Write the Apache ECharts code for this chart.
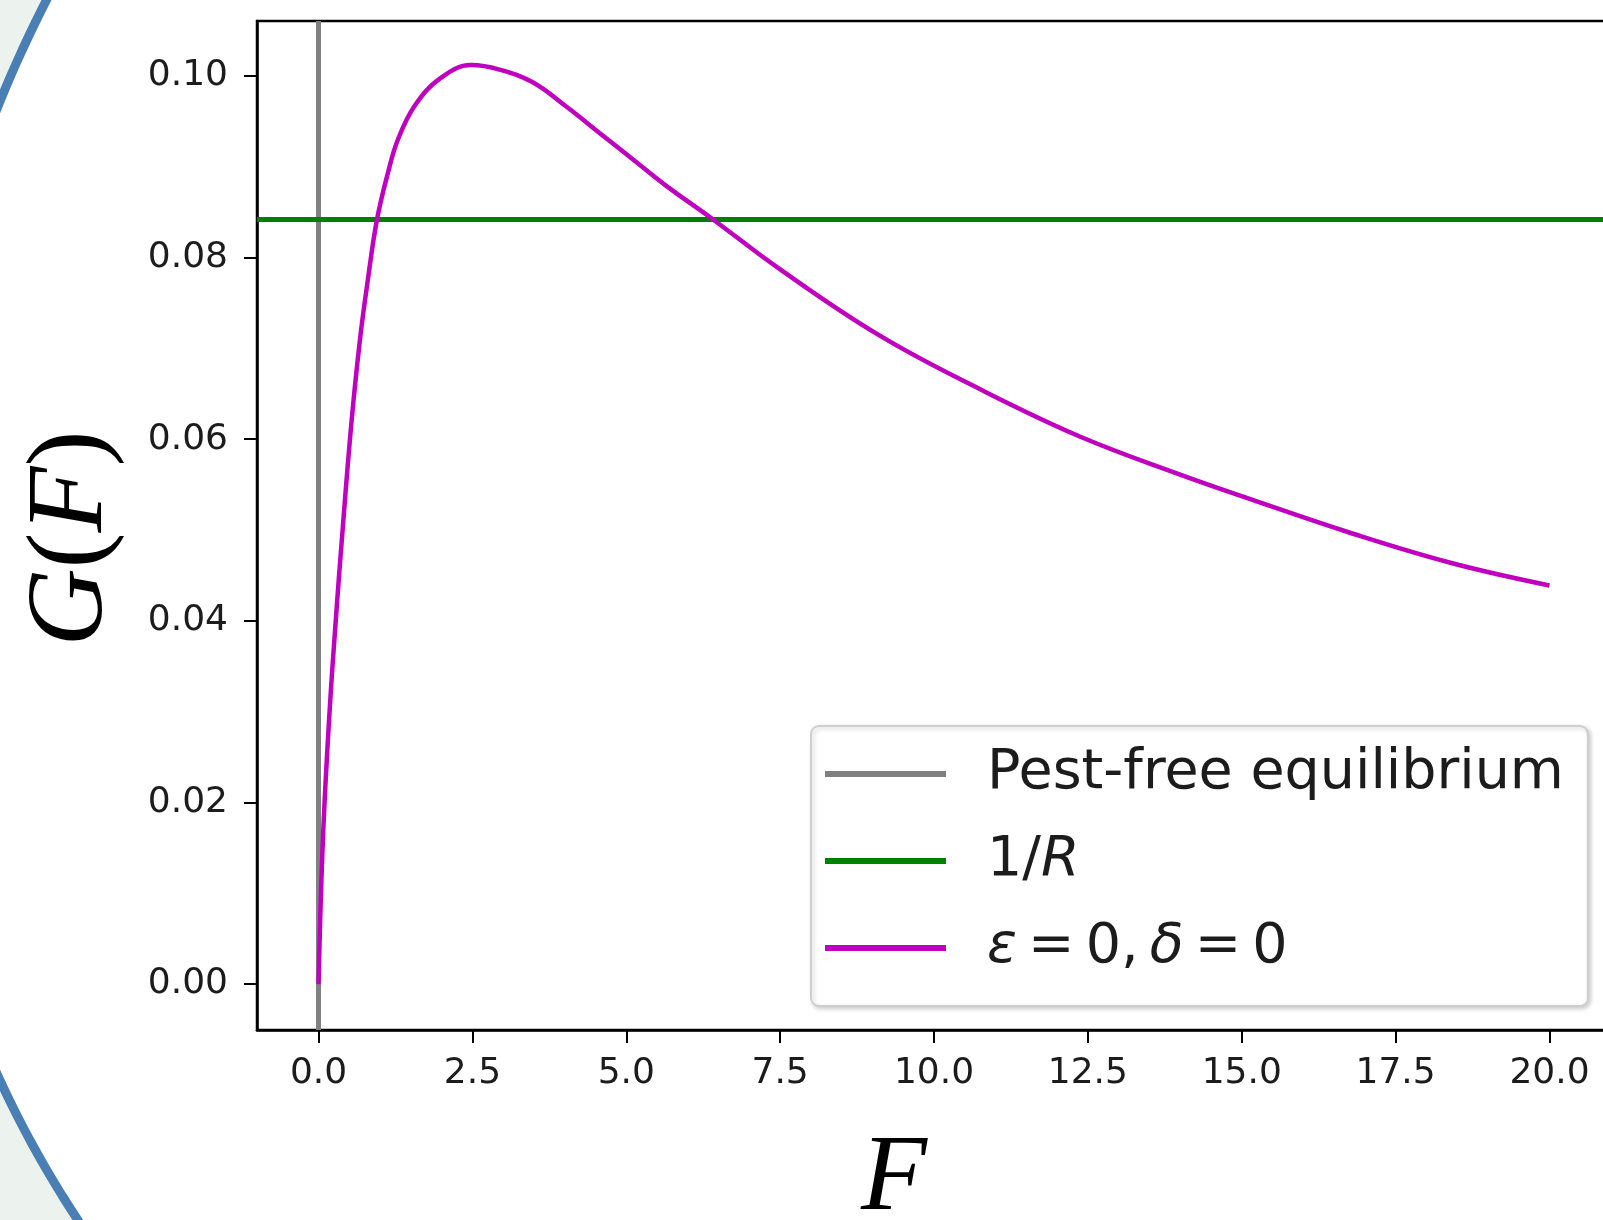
<!DOCTYPE html>
<html>
<head>
<meta charset="utf-8">
<script src="https://cdn.jsdelivr.net/npm/echarts@6/dist/echarts.min.js"></script>
<style>
  html, body { margin: 0; padding: 0; background: #ffffff; }
  #chart { width: 1603px; height: 1220px; }
</style>
</head>
<body>
<div id="chart"></div>
<script>
// ---- data ----
const F_values = [0, 0.07, 0.18, 0.29, 0.385, 0.53, 0.67, 0.80, 0.95, 1.13, 1.29, 1.56, 1.97, 2.48, 2.94, 3.48, 4.03, 4.57, 5.11, 5.65, 6.41, 7.50, 9.12, 10.75, 12.37, 14.0, 15.14, 16.76, 18.39, 20.0];
const G_values = [0, 0.0158, 0.0301, 0.0410, 0.0495, 0.0615, 0.0708, 0.0775, 0.0842, 0.0894, 0.0930, 0.0967, 0.0997, 0.1012, 0.1007, 0.0993, 0.0966, 0.0937, 0.0908, 0.0879, 0.0842, 0.0787, 0.0714, 0.0655, 0.0603, 0.0561, 0.0534, 0.0497, 0.0464, 0.0439];
const pestFreeF = 0;          // vertical line position
const inverseR = 0.0842;      // horizontal line 1/R
const xTicks = [0, 2.5, 5, 7.5, 10, 12.5, 15, 17.5, 20];
const yTicks = [0, 0.02, 0.04, 0.06, 0.08, 0.10];
const seriesNames = ['Pest-free equilibrium', '1/R', 'ε = 0, δ = 0'];

const curve = F_values.map((f, i) => [f, G_values[i]]);

// ---- slide decoration (blue arc at the left edge) ----
function arcX(y) {
  return y < 615
    ? 1208 - Math.sqrt(1305 * 1305 - (y - 595) * (y - 595))
    : 963 - Math.sqrt(1061 * 1061 - (y - 635) * (y - 635));
}
const arcPts = [];
for (let y = -30; y <= 1250; y += 4) arcPts.push([arcX(y), y]);
const outerPts = [[-300, -30]].concat(arcPts, [[-300, 1250]]);

const chart = echarts.init(document.getElementById('chart'), null, { renderer: 'canvas' });

const tickFont = { fontFamily: 'DejaVu Sans', fontSize: 36, color: '#1c1c1c' };
const legendFont = 'DejaVu Sans';
const TS = '\u2009';

chart.setOption({
  backgroundColor: '#ffffff',
  animation: false,
  graphic: [
    {
      type: 'polygon', z: -100, silent: true,
      shape: { points: outerPts },
      style: { fill: '#ecf3ee', stroke: null }
    },
    {
      type: 'polyline', z: -99, silent: true,
      shape: { points: arcPts },
      style: { fill: null, stroke: '#4a7fb5', lineWidth: 9 }
    }
  ],
  grid: {
    left: 257, top: 21, bottom: 190, right: -8,
    containLabel: false,
    outerBoundsMode: 'none',
    show: true, borderColor: '#000', borderWidth: 2.5, backgroundColor: 'transparent'
  },
  xAxis: {
    type: 'value', min: -1, max: 21,
    splitLine: { show: false },
    axisLine: { show: true, onZero: false, lineStyle: { color: '#000', width: 2.5 } },
    axisTick: { show: true, inside: false, length: 13, lineStyle: { color: '#000', width: 2 }, customValues: xTicks },
    axisLabel: { show: true, margin: 26, customValues: xTicks, formatter: v => v.toFixed(1), ...tickFont },
    name: '{i|F}',
    nameLocation: 'middle',
    nameGap: 97,
    nameTextStyle: {
      fontFamily: 'Liberation Serif', fontSize: 108, color: '#000', padding: [0, 80, 0, 0],
      rich: { i: { fontFamily: 'Liberation Serif', fontStyle: 'italic', fontSize: 108, color: '#000' } }
    }
  },
  yAxis: {
    type: 'value', min: -0.00505, max: 0.10605,
    splitLine: { show: false },
    axisLine: { show: true, onZero: false, lineStyle: { color: '#000', width: 2.5 } },
    axisTick: { show: true, inside: false, length: 13, lineStyle: { color: '#000', width: 2 }, customValues: yTicks },
    axisLabel: { show: true, margin: 29, customValues: yTicks, formatter: v => v.toFixed(2), ...tickFont },
    name: '{i|G}{n|(}{i|F}{n|)}',
    nameLocation: 'middle',
    nameGap: 130,
    nameTextStyle: {
      fontFamily: 'Liberation Serif', fontSize: 108, color: '#000', padding: [0, 26, 0, 0],
      rich: {
        i: { fontFamily: 'Liberation Serif', fontStyle: 'italic', fontSize: 108, color: '#000' },
        n: { fontFamily: 'Liberation Serif', fontSize: 108, color: '#000' }
      }
    }
  },
  legend: {
    left: 811, top: 726,
    orient: 'vertical',
    data: seriesNames,
    icon: 'rect',
    itemWidth: 121, itemHeight: 6,
    itemGap: 31,
    padding: [20, 24, 30, 14],
    backgroundColor: '#ffffff',
    borderColor: '#cfcfcf', borderWidth: 2, borderRadius: 8,
    shadowBlur: 4, shadowColor: 'rgba(0,0,0,0.18)', shadowOffsetX: 2, shadowOffsetY: 2,
    formatter: function (name) {
      if (name === '1/R') return '1/{i|R}';
      if (name === 'ε = 0, δ = 0') return '{i|ε}' + TS + '=' + TS + '0,' + TS + '{i|δ}' + TS + '=' + TS + '0';
      return name;
    },
    textStyle: {
      fontFamily: legendFont, fontSize: 55.5, color: '#1c1c1c', padding: [0, 0, 0, 36],
      rich: { i: { fontFamily: legendFont, fontStyle: 'italic', fontSize: 55.5, color: '#1c1c1c' } }
    }
  },
  series: [
    {
      name: seriesNames[0], type: 'line', data: [], symbol: 'none',
      itemStyle: { color: '#808080' }, lineStyle: { color: '#808080', width: 5 },
      markLine: {
        silent: true, symbol: 'none', label: { show: false }, precision: 5,
        lineStyle: { color: '#808080', width: 5, type: 'solid' },
        data: [{ xAxis: pestFreeF }]
      }
    },
    {
      name: seriesNames[1], type: 'line', data: [], symbol: 'none',
      itemStyle: { color: '#008000' }, lineStyle: { color: '#008000', width: 5 },
      markLine: {
        silent: true, symbol: 'none', label: { show: false }, precision: 5,
        lineStyle: { color: '#008000', width: 5, type: 'solid' },
        data: [{ yAxis: inverseR }]
      }
    },
    {
      name: seriesNames[2], type: 'line', data: curve, symbol: 'none',
      smooth: 0.4, z: 5,
      itemStyle: { color: '#bf00bf' }, lineStyle: { color: '#bf00bf', width: 4.5 }
    }
  ]
});
</script>
</body>
</html>
